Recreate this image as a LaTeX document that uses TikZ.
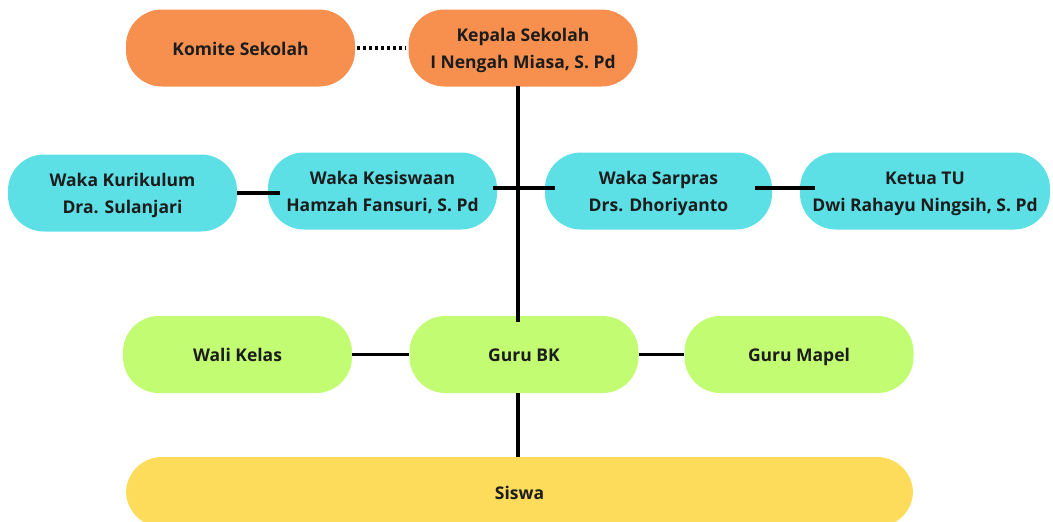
\documentclass[tikz,border=0pt]{standalone}
\usepackage{fontspec}
\setmainfont{Open Sans}
\definecolor{orangebox}{HTML}{F7904F}
\definecolor{cyanbox}{HTML}{5CE0E6}
\definecolor{greenbox}{HTML}{C1FC72}
\definecolor{yellowbox}{HTML}{FDDC5C}
\definecolor{txt}{HTML}{1C1C1C}
\tikzset{
  box/.style={rounded corners=36pt, minimum height=77pt, align=center,
    text=txt, font=\fontsize{17.5}{27}\selectfont\bfseries, inner sep=0pt},
  oneline/.style={text height=18pt, text depth=4pt},
  twoline/.style={text height=45pt, text depth=4.2pt},
  obox/.style={box, fill=orangebox, minimum width=229pt},
  cbox/.style={box, twoline, fill=cyanbox},
  gbox/.style={box, oneline, fill=greenbox, minimum width=229pt},
  conn/.style={line width=3.6pt, black},
  dotconn/.style={line width=3.2pt, black, dash pattern=on 3pt off 3pt}
}
\begin{document}
\begin{tikzpicture}[x=1pt,y=-1pt]
\useasboundingbox (0,0) rectangle (1053,522);
\clip (0,0) rectangle (1053,522);
% top
\node[obox, oneline] (komite) at (240.5,48) {Komite Sekolah};
\node[obox, twoline] (kepala) at (523,48) {Kepala Sekolah\\I Nengah Miasa, S. Pd};
% waka row
\node[cbox, minimum width=229pt] (kurikulum) at (122.5,193) {Waka Kurikulum\\Dra. Sulanjari};
\node[cbox, minimum width=229pt] (kesiswaan) at (382.5,191) {Waka Kesiswaan\\Hamzah Fansuri, S. Pd};
\node[cbox, minimum width=227pt] (sarpras) at (658.5,191) {Waka Sarpras\\Drs. Dhoriyanto};
\node[cbox, minimum width=250pt] (ketua) at (925,191) {Ketua TU\\Dwi Rahayu Ningsih, S. Pd};
% guru row
\node[gbox] (wali) at (237.5,354.5) {Wali Kelas};
\node[gbox] (bk) at (524,354.5) {Guru BK};
\node[gbox] (mapel) at (799,354.5) {Guru Mapel};
% siswa
\node[box, oneline, fill=yellowbox, minimum width=787pt, minimum height=70pt] (siswa) at (519.5,492) {Siswa};
% connectors
\coordinate (vtop) at (518,86);
\coordinate (cross) at (518,188);
\coordinate (vbk) at (518,322);
\draw[dotconn] ([xshift=2pt]komite.east) -- ([xshift=-3pt]kepala.west);
\draw[conn] (vtop) -- (vbk);
\draw[conn] ([xshift=-4pt]kesiswaan.east |- cross) -- (cross) -- ([xshift=10pt]sarpras.west |- cross);
\draw[conn] (kurikulum.east) -- ([xshift=12pt]kesiswaan.west |- kurikulum.east);
\draw[conn] ([xshift=-17pt]sarpras.east |- cross) -- ([xshift=15pt]ketua.west |- cross);
\draw[conn] (wali.east) -- (bk.west);
\draw[conn] (bk.east) -- (mapel.west);
\coordinate (b1) at (518,393);
\draw[conn] (b1) -- (b1 |- siswa.north);
\end{tikzpicture}
\end{document}
